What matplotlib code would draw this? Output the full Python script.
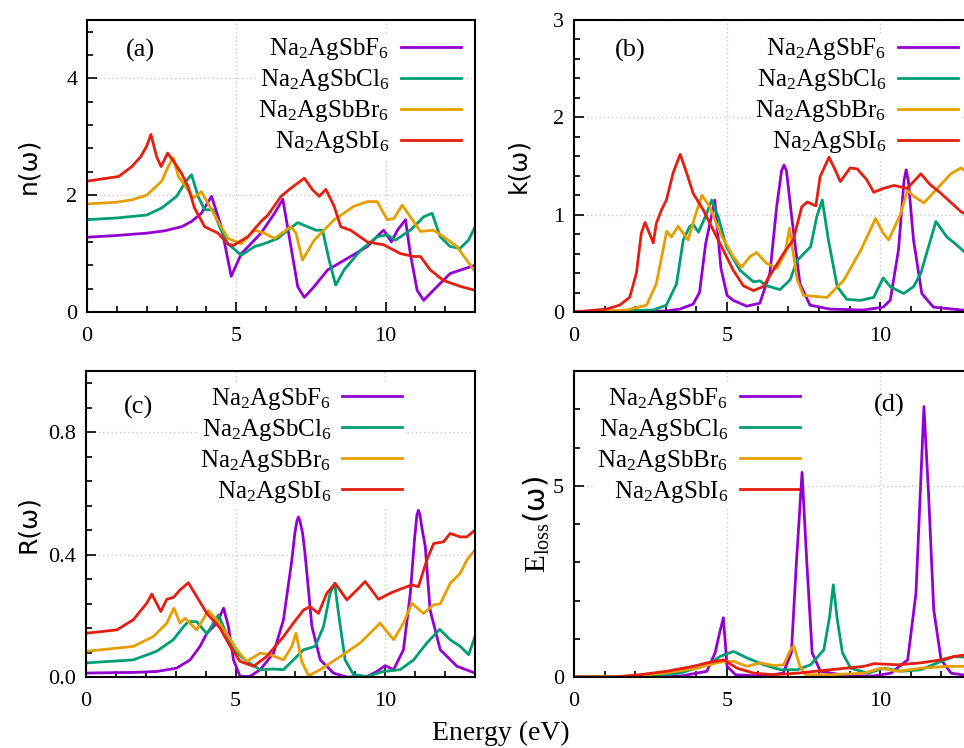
import matplotlib
matplotlib.use("Agg")
import matplotlib.pyplot as plt
from matplotlib.ticker import MultipleLocator

plt.rcParams['font.family'] = ['Liberation Serif', 'DejaVu Serif']
plt.rcParams['mathtext.fontset'] = 'custom'
plt.rcParams['mathtext.rm'] = 'Liberation Serif'
plt.rcParams['mathtext.it'] = 'Liberation Serif:italic'

labels = ['Na$_2$AgSbF$_6$', 'Na$_2$AgSbCl$_6$', 'Na$_2$AgSbBr$_6$', 'Na$_2$AgSbI$_6$']
colors = ['#9400D3', '#009E73', '#E69F00', '#E51E10']

# (a) refractive index n(w)
nF_e = [0, 1, 2, 2.6, 3.17, 3.5, 3.83, 4.17, 4.5, 4.83, 5.17, 5.83, 6.28, 6.56, 6.83, 7.06, 7.28, 7.6, 8.06,
        8.83, 9.39, 9.83, 9.94, 10.2, 10.4, 10.67, 10.83, 11.06, 11.28, 11.6, 12.17, 13]
nF = [1.28, 1.31, 1.35, 1.39, 1.46, 1.55, 1.69, 1.98, 1.46, 0.61, 1.0, 1.35, 1.69, 1.93, 1.12, 0.43, 0.25, 0.43,
      0.72, 0.95, 1.12, 1.35, 1.40, 1.20, 1.40, 1.58, 1.0, 0.37, 0.20, 0.37, 0.66, 0.80]
nCl_e = [0, 1, 2.0, 2.5, 3.0, 3.3, 3.5, 3.72, 3.94, 4.22, 4.44, 4.72, 5.17, 5.61, 5.94, 6.39, 6.72, 7.06, 7.39,
         7.67, 7.89, 8.11, 8.33, 8.61, 9.17, 9.72, 10.06, 10.33, 10.83, 11.28, 11.56, 11.83, 12.17, 12.5, 12.78, 13]
nCl = [1.58, 1.61, 1.66, 1.78, 1.98, 2.23, 2.35, 1.98, 1.75, 1.75, 1.46, 1.17, 0.97, 1.12, 1.17, 1.26, 1.40, 1.53,
       1.46, 1.40, 1.40, 0.89, 0.46, 0.72, 1.06, 1.29, 1.32, 1.23, 1.40, 1.63, 1.69, 1.29, 1.12, 1.09, 1.23, 1.46]
nBr_e = [0, 1, 1.5, 2.0, 2.5, 2.72, 2.89, 3.06, 3.22, 3.56, 3.83, 4.11, 4.39, 4.72, 5.17, 5.61, 5.94, 6.28, 6.83,
         7.0, 7.22, 7.61, 8.28, 8.94, 9.39, 9.72, 10.06, 10.28, 10.56, 10.83, 11.17, 11.61, 11.94, 12.39, 13]
nBr = [1.85, 1.88, 1.92, 2.0, 2.24, 2.49, 2.64, 2.32, 2.21, 1.95, 2.06, 1.81, 1.55, 1.26, 1.17, 1.40, 1.35, 1.26,
       1.46, 1.35, 0.89, 1.23, 1.58, 1.81, 1.89, 1.89, 1.58, 1.60, 1.83, 1.63, 1.38, 1.40, 1.29, 1.12, 0.69]
nI_e = [0, 1.06, 1.5, 1.8, 2.0, 2.14, 2.33, 2.48, 2.7, 2.94, 3.17, 3.39, 3.6, 3.94, 4.39, 4.72, 4.9, 5.39, 5.83,
        6.06, 6.5, 6.83, 7.28, 7.56, 7.78, 8.0, 8.28, 8.5, 8.83, 9.39, 9.94, 10.5, 10.94, 11.17, 11.5, 11.94,
        12.5, 13]
nI = [2.24, 2.32, 2.49, 2.66, 2.84, 3.04, 2.66, 2.49, 2.72, 2.55, 2.37, 2.14, 1.78, 1.46, 1.35, 1.16, 1.14, 1.29,
      1.55, 1.66, 1.98, 2.12, 2.29, 2.09, 1.98, 2.10, 1.81, 1.46, 1.40, 1.20, 1.15, 1.0, 0.95, 0.95, 0.72, 0.54,
      0.44, 0.37]

# (b) extinction coefficient k(w)
kF_e = [0, 3.0, 3.46, 3.89, 4.1, 4.3, 4.6, 4.8, 5.0, 5.2, 5.64, 6.07, 6.4, 6.62, 6.78, 6.86, 6.94, 7.11, 7.38,
        7.71, 8.36, 9.45, 10.1, 10.33, 10.6, 10.78, 10.85, 10.92, 11.09, 11.36, 11.74, 13]
kF = [0, 0.01, 0.03, 0.08, 0.2, 0.7, 1.15, 0.45, 0.17, 0.12, 0.06, 0.09, 0.40, 1.08, 1.45, 1.51, 1.45, 0.98,
      0.29, 0.07, 0.03, 0.02, 0.05, 0.12, 0.64, 1.35, 1.46, 1.35, 0.74, 0.19, 0.05, 0.01]
kCl_e = [0, 2.58, 3.02, 3.35, 3.57, 3.78, 3.89, 4.07, 4.33, 4.5, 4.71, 4.98, 5.42, 5.86, 6.07, 6.29, 6.73, 7.06,
         7.29, 7.73, 7.93, 8.11, 8.31, 8.6, 8.91, 9.36, 9.79, 10.1, 10.33, 10.77, 11.09, 11.33, 11.82, 12.18, 12.42, 13]
kCl = [0, 0.02, 0.07, 0.29, 0.74, 0.88, 0.90, 0.82, 1.01, 1.15, 0.98, 0.67, 0.43, 0.31, 0.32, 0.27, 0.23, 0.33,
       0.53, 0.67, 0.98, 1.15, 0.74, 0.26, 0.13, 0.12, 0.15, 0.35, 0.26, 0.19, 0.26, 0.40, 0.93, 0.77, 0.71, 0.55]
kBr_e = [0, 1.71, 2.37, 2.69, 3.03, 3.18, 3.4, 3.73, 3.95, 4.18, 4.44, 4.77, 5.2, 5.47, 5.75, 5.97, 6.29, 6.63,
         6.89, 7.04, 7.29, 7.5, 8.27, 8.82, 9.36, 9.85, 10.1, 10.28, 10.67, 10.89, 11.09, 11.43, 11.87, 12.31, 12.64, 13]
kBr = [0, 0.02, 0.07, 0.29, 0.83, 0.77, 0.88, 0.74, 0.98, 1.20, 1.08, 0.81, 0.57, 0.46, 0.57, 0.61, 0.50, 0.45,
       0.60, 0.86, 0.33, 0.17, 0.15, 0.33, 0.63, 0.96, 0.81, 0.74, 1.01, 1.25, 1.19, 1.12, 1.27, 1.42, 1.48, 1.40]
kI_e = [0, 1.06, 1.49, 1.82, 2.04, 2.2, 2.32, 2.59, 2.69, 2.86, 3.02, 3.24, 3.47, 3.68, 3.89, 4.22, 4.55, 4.87,
        5.2, 5.53, 5.86, 6.18, 6.51, 6.84, 7.16, 7.44, 7.62, 7.9, 8.04, 8.33, 8.53, 8.7, 9.02, 9.25, 9.56, 9.79,
        10.11, 10.45, 10.89, 11.33, 11.63, 11.98, 12.4, 12.64, 13]
kI = [0, 0.03, 0.07, 0.15, 0.40, 0.81, 0.92, 0.71, 0.91, 1.05, 1.15, 1.43, 1.62, 1.43, 1.22, 1.05, 0.84, 0.64,
      0.43, 0.27, 0.22, 0.26, 0.43, 0.60, 0.74, 1.08, 1.13, 1.09, 1.39, 1.59, 1.46, 1.34, 1.48, 1.47, 1.36, 1.23,
      1.27, 1.30, 1.27, 1.42, 1.31, 1.22, 1.10, 1.03, 0.98]

# (c) reflectivity R(w)
RF_e = [0, 1.58, 2.36, 3.03, 3.48, 3.81, 4.04, 4.37, 4.6, 4.76, 4.93, 5.15, 5.48, 5.82, 6.27, 6.6, 6.88, 6.98,
        7.05, 7.1, 7.15, 7.24, 7.32, 7.55, 7.83, 8.27, 8.72, 9.39, 9.72, 10.0, 10.28, 10.61, 10.84, 10.98, 11.06,
        11.11, 11.16, 11.24, 11.34, 11.5, 11.84, 12.4, 13]
RF = [0.013, 0.015, 0.018, 0.029, 0.056, 0.10, 0.143, 0.176, 0.225, 0.165, 0.056, 0.002, 0.002, 0.024, 0.078,
      0.187, 0.382, 0.47, 0.51, 0.523, 0.51, 0.47, 0.404, 0.165, 0.056, 0.013, 0.0, 0.002, 0.018, 0.037, 0.024,
      0.089, 0.274, 0.45, 0.53, 0.545, 0.53, 0.48, 0.426, 0.219, 0.089, 0.035, 0.013]
RCl_e = [0, 1.58, 2.36, 2.92, 3.26, 3.42, 3.7, 4.04, 4.26, 4.43, 4.59, 4.93, 5.37, 5.82, 6.27, 6.6, 6.93, 7.27,
         7.66, 7.94, 8.16, 8.31, 8.44, 8.66, 8.94, 9.39, 9.94, 10.5, 10.95, 11.39, 11.82, 12.17, 12.51, 12.79, 13]
RCl = [0.046, 0.056, 0.084, 0.122, 0.165, 0.181, 0.181, 0.141, 0.176, 0.203, 0.165, 0.089, 0.051, 0.024, 0.026,
       0.024, 0.056, 0.089, 0.10, 0.165, 0.274, 0.306, 0.208, 0.056, 0.008, 0.002, 0.018, 0.024, 0.056, 0.111,
       0.156, 0.122, 0.10, 0.073, 0.132]
RBr_e = [0, 1.58, 2.25, 2.7, 2.94, 3.14, 3.31, 3.7, 4.09, 4.37, 4.7, 5.04, 5.37, 5.82, 6.15, 6.6, 6.88, 7.02,
         7.21, 7.44, 7.83, 8.5, 9.16, 9.83, 10.28, 10.61, 10.89, 11.28, 11.62, 11.84, 12.17, 12.51, 12.73, 13]
RBr = [0.084, 0.10, 0.132, 0.176, 0.225, 0.176, 0.192, 0.154, 0.217, 0.187, 0.143, 0.089, 0.051, 0.078, 0.073,
       0.056, 0.10, 0.143, 0.051, 0.004, 0.024, 0.067, 0.111, 0.176, 0.122, 0.176, 0.241, 0.208, 0.236, 0.239,
       0.306, 0.339, 0.382, 0.415]
RI_e = [0, 1.03, 1.58, 2.03, 2.2, 2.36, 2.5, 2.7, 2.92, 3.14, 3.42, 3.7, 4.04, 4.48, 4.82, 5.15, 5.6, 6.04, 6.6,
        6.93, 7.27, 7.49, 7.77, 8.05, 8.33, 8.72, 9.05, 9.33, 9.55, 9.78, 10.17, 10.5, 10.89, 11.11, 11.39, 11.62,
        11.95, 12.17, 12.51, 12.73, 13]
RI = [0.143, 0.154, 0.187, 0.241, 0.271, 0.241, 0.214, 0.254, 0.26, 0.284, 0.308, 0.263, 0.208, 0.160, 0.10,
      0.051, 0.035, 0.067, 0.132, 0.176, 0.219, 0.23, 0.208, 0.274, 0.306, 0.252, 0.284, 0.312, 0.284, 0.254,
      0.274, 0.287, 0.301, 0.295, 0.382, 0.436, 0.442, 0.469, 0.458, 0.458, 0.48]

# (d) energy loss function
LF_e = [0, 3.46, 4.34, 4.61, 4.74, 4.88, 5.0, 5.28, 6.17, 6.83, 7.1, 7.27, 7.45, 7.6, 7.78, 8.05, 8.93, 9.8,
        10.35, 10.9, 11.17, 11.31, 11.43, 11.58, 11.75, 11.99, 12.32, 13]
LF = [0, 0.02, 0.15, 0.63, 1.1, 1.55, 0.28, 0.06, 0.02, 0.10, 0.63, 3.06, 5.35, 3.06, 0.63, 0.15, 0.03, 0.03,
      0.10, 0.45, 2.19, 4.8, 7.07, 4.8, 1.76, 0.45, 0.10, 0.02]
LCl_e = [0, 2.37, 3.46, 4.34, 4.78, 5.21, 5.65, 6.2, 6.74, 7.29, 7.73, 8.16, 8.35, 8.47, 8.6, 8.77, 9.04, 9.6,
         10.13, 10.68, 11.33, 11.99, 12.43, 13]
LCl = [0, 0.02, 0.10, 0.32, 0.54, 0.67, 0.50, 0.32, 0.19, 0.19, 0.32, 0.71, 1.58, 2.41, 1.50, 0.63, 0.23, 0.10,
       0.23, 0.15, 0.19, 0.41, 0.54, 0.50]
LBr_e = [0, 1.83, 2.92, 4.01, 4.67, 4.94, 5.21, 5.65, 6.09, 6.52, 6.85, 7.07, 7.18, 7.38, 7.56, 8.38, 9.48,
         10.02, 10.57, 11.33, 12.21, 13]
LBr = [0, 0.02, 0.10, 0.23, 0.37, 0.41, 0.41, 0.28, 0.37, 0.30, 0.32, 0.71, 0.81, 0.28, 0.06, 0.06, 0.10, 0.23,
       0.15, 0.23, 0.28, 0.28]
LI_e = [0, 1.28, 2.15, 3.03, 3.9, 4.34, 4.89, 5.33, 5.88, 6.52, 7.29, 8.38, 9.48, 9.8, 10.57, 11.33, 11.99,
        12.43, 13]
LI = [0, 0, 0.06, 0.15, 0.28, 0.37, 0.45, 0.23, 0.10, 0.06, 0.10, 0.19, 0.28, 0.35, 0.32, 0.37, 0.45, 0.54, 0.6]

panels = [
    ([(nF_e, nF), (nCl_e, nCl), (nBr_e, nBr), (nI_e, nI)], 'n(ω)', 5, 2, 0.4, '(a)'),
    ([(kF_e, kF), (kCl_e, kCl), (kBr_e, kBr), (kI_e, kI)], 'k(ω)', 3, 1, 0.2, '(b)'),
    ([(RF_e, RF), (RCl_e, RCl), (RBr_e, RBr), (RI_e, RI)], 'R(ω)', 1.0, 0.4, 0.08, '(c)'),
    ([(LF_e, LF), (LCl_e, LCl), (LBr_e, LBr), (LI_e, LI)], r'$\mathrm{E_{loss}}$(ω)', 8, 5, 1, '(d)'),
]

fig = plt.figure(figsize=(9.64, 7.48), dpi=100)
rects = [[0.0903, 0.5829, 0.4025, 0.3904], [0.5954, 0.5829, 0.4129, 0.3904],
         [0.0892, 0.0949, 0.4035, 0.4091], [0.5954, 0.0949, 0.4129, 0.4091]]
leg_pos = [(0.969, 0.74), (0.970, 0.74), (0.820, 0.758), (0.573, 0.758)]
tag_pos = [(0.137, 0.897), (0.141, 0.897), (0.134, 0.882), (0.791, 0.889)]
ylab_x = [-0.121, -0.111, -0.118, -0.055]
ylab_size = [18, 18, 18, 21]

for i, (series, ylab, ymax, major, minor, tag) in enumerate(panels):
    ax = fig.add_axes(rects[i])
    for (e, v), lab, c in zip(series, labels, colors):
        ax.plot(e, v, color=c, lw=2, label=lab, zorder=2)
    ax.set_xlim(0, 13)
    ax.set_ylim(0, ymax)
    ax.xaxis.set_major_locator(MultipleLocator(5))
    ax.xaxis.set_minor_locator(MultipleLocator(1))
    ax.yaxis.set_major_locator(MultipleLocator(major))
    ax.yaxis.set_minor_locator(MultipleLocator(minor))
    ax.set_axisbelow(True)
    ax.grid(True, which='major', color='#c8c8c8', linestyle=(0, (1, 2)), lw=1)
    ax.tick_params(which='both', direction='in', width=1.2, labelsize=16)
    ax.tick_params(which='major', length=7)
    ax.tick_params(which='minor', length=4)
    ax.tick_params(axis='x', pad=11)
    ax.tick_params(axis='y', pad=7)
    for s in ax.spines.values():
        s.set_linewidth(1.5)
    ax.set_ylabel(ylab, fontsize=ylab_size[i], family=['DejaVu Sans'])
    ax.yaxis.set_label_coords(ylab_x[i], 0.5)
    ax.text(tag_pos[i][0], tag_pos[i][1], tag, transform=ax.transAxes, fontsize=19,
            ha='center', va='center')
    leg = ax.legend(loc='center right', bbox_to_anchor=leg_pos[i], markerfirst=False,
                    frameon=True, fancybox=False, edgecolor='none', facecolor='white',
                    framealpha=1, borderpad=0.1, borderaxespad=0, handlelength=2.4,
                    handletextpad=0.45, labelspacing=0.2, fontsize=18)
    leg.set_zorder(1)

fig.text(0.519, 0.02, 'Energy (eV)', fontsize=20, ha='center', va='center')
fig.savefig('out.png', dpi=100)
